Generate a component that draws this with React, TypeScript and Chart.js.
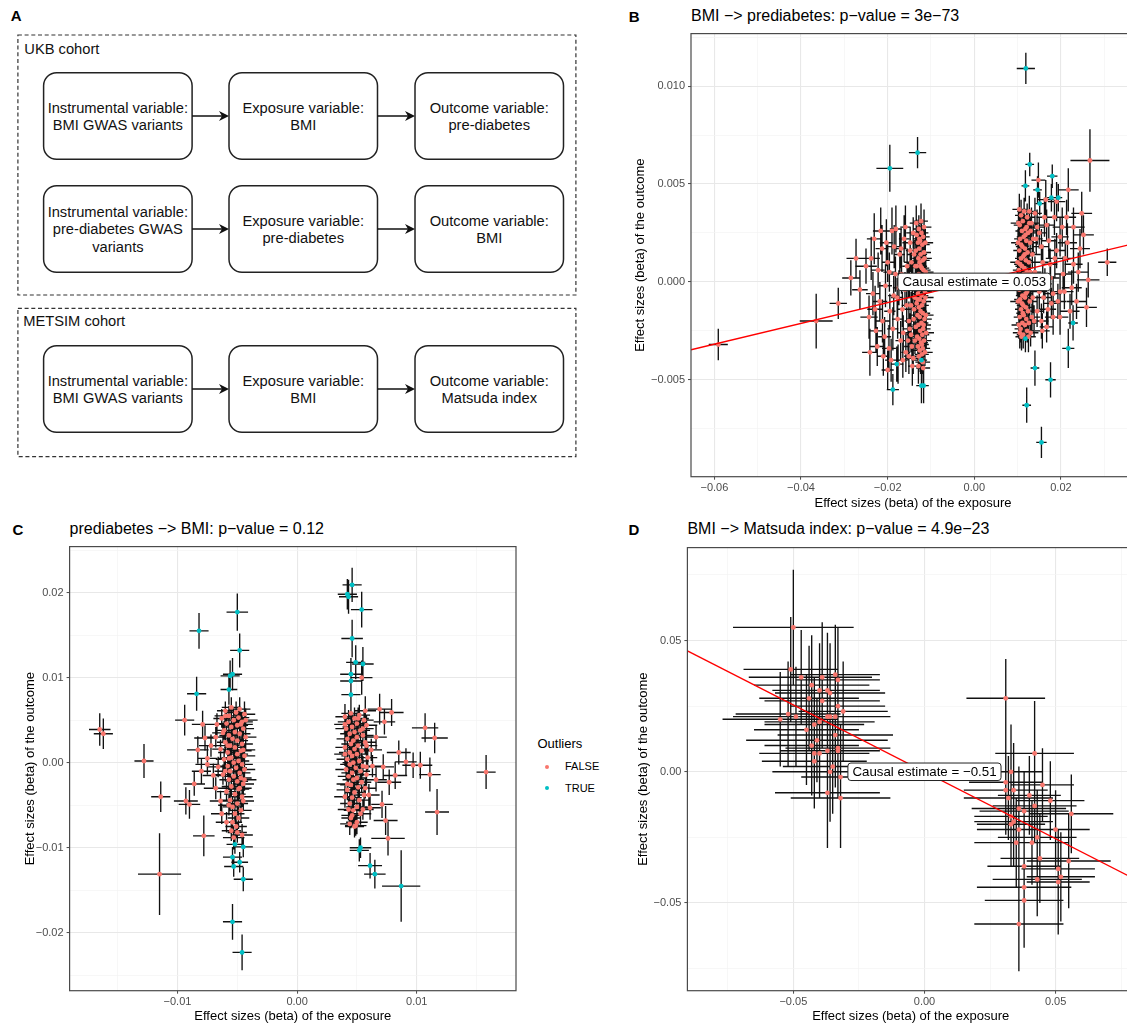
import React, { useEffect, useRef } from 'react';
import { Chart, registerables } from 'chart.js';

Chart.register(...registerables);

const FONT = "'Liberation Sans', Arial, Helvetica, sans-serif";
const PINK = '#F8766D';
const TEAL = '#00BFC4';

// ---------------- Panel B (values in units of 1e-4): [x, y, se_x, se_y]
const B_UNIT = 1e-4;
const B_FALSE: number[][] = [
  [-591, -32, 22, 8], [-365, -20, 38, 14], [-314, -11, 20, 8],
  [-273, 12, 22, 10], [-285, 2, 20, 9], [-264, -4, 18, 10], [-243, -18, 20, 11], [-241, -36, 18, 12],
  [-231, 22, 17, 13], [-227, -25, 16, 11], [-213, 17, 15, 12], [-210, -38, 14, 10], [-197, -34, 16, 12],
  [-185, 18, 14, 11], [-176, -42, 13, 10], [-222, 6, 15, 9], [-218, -10, 17, 10], [-205, -2, 15, 11],
  [-200, 10, 14, 10], [-195, -15, 13, 9], [-190, 26, 12, 12], [-188, -24, 13, 11], [-182, 4, 12, 9],
  [-178, -8, 14, 10], [-172, 14, 12, 11], [-170, -30, 12, 10], [-166, -14, 11, 9], [-162, 22, 12, 12],
  [-160, -4, 11, 9], [-158, -36, 10, 10], [-155, 8, 11, 9], [-151, -20, 10, 10], [-148, 16, 10, 11],
  [-146, -27, 10, 9], [-143, -2, 10, 10], [-151, -38, 11, 9], [-143, -43, 10, 10], [-165, -40, 11, 9],
  [-234, -6, 16, 11], [-250, 8, 25, 9], [-200, -45, 14, 10],
  [-238, 12, 20, 11], [-229, -14, 18, 12], [-224, -33, 17, 10], [-216, 26, 18, 12], [-212, -20, 16, 11],
  [-207, -28, 15, 10], [-203, 20, 15, 12], [-196, 5, 14, 10], [-192, -40, 14, 11], [-186, -7, 13, 10],
  [-181, 27, 14, 12], [-177, -19, 13, 10], [-174, -3, 14, 9], [-168, 4, 12, 10], [-164, -26, 13, 9],
  [-159, 28, 12, 11], [-156, -12, 12, 9], [-153, -30, 12, 10], [-152, 1, 11, 9], [-169, 17, 12, 10],
  [-128, 27, 14, 7], [-122, 25, 16, 6], [-133, 24, 13, 8], [-118, 23, 15, 6], [-125, 21, 14, 7],
  [-130, 20, 15, 6], [-120, 19, 17, 7], [-127, 17, 14, 6], [-135, 16, 13, 8], [-116, 15, 16, 6],
  [-124, 14, 15, 7], [-129, 12, 14, 6], [-119, 11, 16, 7], [-126, 10, 15, 6], [-133, 8, 13, 7],
  [-121, 7, 17, 6], [-117, 6, 16, 7], [-128, 4, 14, 6], [-123, 3, 15, 7], [-131, 2, 14, 6],
  [-118, 1, 17, 7], [-125, -1, 15, 6], [-136, -2, 13, 8], [-120, -3, 16, 6], [-127, -4, 14, 7],
  [-114, -5, 17, 6], [-130, -6, 15, 7], [-122, -7, 16, 6], [-126, -9, 14, 7], [-117, -10, 17, 6],
  [-133, -11, 13, 7], [-121, -12, 16, 6], [-128, -13, 15, 7], [-124, -15, 15, 6], [-119, -16, 17, 7],
  [-131, -17, 14, 6], [-126, -18, 15, 7], [-115, -19, 17, 6], [-122, -21, 16, 7], [-129, -22, 14, 6],
  [-135, -23, 13, 8], [-118, -24, 17, 6], [-125, -25, 15, 7], [-120, -27, 16, 6], [-132, -28, 14, 7],
  [-127, -29, 15, 6], [-116, -30, 17, 7], [-123, -31, 16, 6], [-130, -33, 14, 7], [-119, -34, 17, 6],
  [-126, -35, 15, 7], [-121, -37, 16, 6], [-128, -38, 14, 8], [-124, -40, 15, 7], [-119, -41, 17, 6],
  [-131, -9, 14, 6], [-124, 8, 15, 7], [-121, -32, 16, 6], [-127, 22, 14, 7], [-117, -22, 17, 7],
  [-148, 20, 18, 8], [-145, 10, 17, 7], [-150, 0, 19, 8], [-146, -12, 18, 7], [-149, -24, 17, 8],
  [-144, -33, 18, 7], [-141, 25, 16, 8], [-139, 14, 17, 7], [-142, 3, 16, 8], [-138, -8, 17, 7],
  [-140, -19, 16, 8], [-137, -30, 17, 7], [-141, -39, 16, 8], [-136, 8, 16, 7], [-139, -14, 17, 8],
  [-113, 20, 18, 7], [-112, 5, 18, 8], [-113, -8, 19, 7], [-111, -26, 18, 8], [-114, -36, 18, 7],
  [-115, 12, 17, 8], [-112, -17, 18, 7], [-116, 28, 17, 9], [-114, -2, 18, 7], [-134, 30, 15, 9],
  [-123, 31, 16, 9], [-118, -44, 16, 8], [-129, -43, 15, 9],
  [115, 36, 16, 7], [108, 34, 14, 8], [122, 33, 17, 7], [112, 31, 15, 6], [127, 30, 18, 7],
  [105, 29, 14, 8], [118, 27, 16, 7], [110, 26, 15, 6], [124, 25, 17, 7], [114, 23, 16, 6],
  [106, 22, 14, 7], [120, 21, 17, 6], [129, 20, 18, 7], [111, 18, 15, 6], [117, 17, 16, 7],
  [104, 16, 14, 6], [123, 15, 17, 7], [113, 13, 15, 6], [108, 12, 14, 7], [119, 11, 16, 6],
  [126, 10, 18, 7], [110, 8, 15, 6], [116, 7, 16, 7], [103, 6, 14, 6], [121, 5, 17, 7],
  [112, 3, 15, 6], [107, 2, 14, 7], [118, 1, 16, 6], [125, 0, 18, 7], [109, -2, 15, 6],
  [115, -3, 16, 7], [104, -4, 14, 6], [122, -5, 17, 7], [111, -7, 15, 6], [117, -8, 16, 7],
  [106, -9, 14, 6], [128, -10, 18, 7], [113, -12, 15, 6], [119, -13, 16, 7], [108, -14, 14, 6],
  [124, -15, 17, 7], [114, -17, 15, 6], [105, -18, 14, 7], [120, -19, 16, 6], [111, -21, 15, 7],
  [117, -22, 16, 6], [107, -24, 14, 7], [122, -25, 17, 6], [113, -27, 15, 7], [109, -28, 14, 7],
  [116, 14, 15, 6], [112, -16, 15, 6], [118, 24, 16, 7], [110, -11, 15, 6], [121, 28, 17, 7],
  [106, 9, 14, 6], [123, -1, 16, 6], [114, 4, 15, 7], [119, -6, 16, 6], [108, 19, 14, 7],
  [102, 30, 18, 8], [100, 10, 17, 7], [101, -10, 18, 8], [103, -22, 17, 7], [132, 30, 18, 8],
  [134, 14, 19, 7], [131, -2, 18, 8], [133, -18, 19, 7], [136, 22, 18, 8], [130, -26, 18, 7],
  [127, 36, 17, 8], [104, 37, 16, 8], [126, -21, 17, 7], [101, 20, 16, 7], [129, 5, 18, 7],
  [135, -8, 18, 8], [99, 0, 16, 7], [105, -26, 16, 8], [130, 26, 18, 7], [125, -28, 17, 8],
  [167, 29, 18, 8], [190, 16, 20, 9], [175, 9, 17, 8], [163, -1, 16, 8], [198, -5, 20, 9],
  [178, -11, 18, 8], [155, -20, 17, 9], [167, -23, 16, 8], [148, 52, 16, 9], [190, 41, 20, 10],
  [213, 33, 22, 9], [229, 9, 21, 10], [205, 4, 20, 9], [236, -10, 22, 9], [198, -18, 19, 9],
  [198, 23, 20, 10], [217, 47, 24, 11], [229, 28, 26, 10], [248, 35, 24, 11], [244, 17, 23, 10],
  [263, 1, 26, 9], [259, -13, 24, 10], [221, -15, 22, 9], [267, 62, 45, 16], [307, 10, 21, 7],
  [140, 35, 16, 8], [145, -15, 16, 8], [158, 10, 17, 9], [172, 21, 18, 9], [182, -6, 19, 9],
  [150, 25, 16, 8], [160, -8, 17, 8], [185, 33, 18, 9], [140, 5, 15, 8], [143, 22, 15, 8],
  [210, 12, 20, 9],
  [150, -5, 18, 9], [155, 18, 18, 9], [162, 33, 19, 10], [170, -14, 19, 9], [176, 2, 20, 9],
  [186, 12, 21, 10], [193, -10, 20, 9], [203, 28, 22, 10], [208, -5, 21, 9], [215, 20, 22, 10],
  [225, -3, 23, 9], [240, 5, 24, 10], [252, 24, 24, 10], [145, 28, 17, 9], [157, -25, 17, 9],
  [138, -20, 16, 8], [165, 42, 18, 10], [182, -18, 19, 9],
];
const B_TRUE: number[][] = [
  [-195, 58, 31, 12], [-131, 66, 20, 8], [-188, -55, 14, 8], [-122, -53, 12, 9], [-117, -53, 12, 9],
  [-122, -40, 11, 8], [-179, -42, 12, 9],
  [119, 109, 21, 8], [128, 60, 10, 6], [118, 49, 9, 8], [146, 47, 10, 7], [180, 54, 12, 6],
  [178, 43, 10, 7], [194, 43, 9, 7], [151, 40, 9, 6], [118, -29, 8, 7], [140, -44, 10, 9],
  [176, -50, 12, 9], [121, -63, 10, 9], [155, -82, 12, 8], [217, -34, 14, 10], [228, -21, 11, 9],
];
const B_X_RANGE = [-0.0654, 0.0371];
const B_Y_RANGE = [-0.00995, 0.01268];
const B_X_MAJOR = [-0.06, -0.04, -0.02, 0, 0.02];
const B_X_MINOR = [-0.05, -0.03, -0.01, 0.01, 0.03];
const B_X_LABELS = ['\u22120.06', '\u22120.04', '\u22120.02', '0.00', '0.02'];
const B_Y_MAJOR = [-0.005, 0, 0.005, 0.01];
const B_Y_MINOR = [-0.0075, -0.0025, 0.0025, 0.0075, 0.0125];
const B_Y_LABELS = ['\u22120.005', '0.000', '0.005', '0.010'];
const B_SLOPE = 0.053;
const B_TITLE = 'BMI \u2212> prediabetes: p\u2212value = 3e\u221273';
const B_LABEL = 'Causal estimate = 0.053';

// ---------------- Panel C (values in units of 1e-4)
const C_UNIT = 1e-4;
const C_FALSE: number[][] = [
  [-55, 65, 8, 12], [-48, 63, 9, 14], [-60, 61, 7, 11], [-51, 59, 8, 13], [-44, 57, 9, 15],
  [-57, 55, 8, 12], [-49, 53, 9, 13], [-63, 52, 7, 11], [-53, 50, 8, 14], [-46, 48, 9, 12],
  [-59, 46, 8, 13], [-50, 44, 9, 15], [-55, 42, 8, 12], [-45, 40, 9, 13], [-61, 38, 7, 11],
  [-52, 36, 8, 14], [-48, 34, 9, 12], [-57, 32, 8, 13], [-43, 30, 9, 15], [-54, 28, 8, 12],
  [-50, 26, 9, 13], [-60, 24, 7, 12], [-46, 22, 9, 14], [-56, 20, 8, 12], [-52, 18, 9, 13],
  [-64, 16, 7, 11], [-47, 14, 9, 14], [-58, 12, 8, 12], [-50, 10, 9, 13], [-44, 8, 9, 15],
  [-55, 6, 8, 12], [-61, 4, 7, 12], [-49, 2, 9, 13], [-53, 0, 8, 14], [-46, -2, 9, 12],
  [-58, -4, 8, 13], [-51, -6, 9, 15], [-44, -8, 9, 12], [-56, -10, 8, 13], [-48, -12, 9, 14],
  [-62, -14, 7, 12], [-53, -16, 8, 13], [-47, -18, 9, 15], [-57, -20, 8, 12], [-50, -22, 9, 13],
  [-45, -25, 9, 14], [-55, -28, 8, 12], [-49, -31, 9, 13], [-59, -34, 8, 12], [-52, -37, 9, 14],
  [-46, -40, 9, 12], [-56, -44, 8, 13], [-50, -48, 9, 14], [-54, -52, 8, 12], [-47, -56, 9, 13],
  [-52, -60, 8, 12], [-49, -65, 9, 13], [-54, -70, 8, 12], [-51, -75, 9, 13], [-50, -82, 8, 12],
  [-53, -88, 9, 14],
  [-60, 55, 9, 12], [-47, 45, 10, 13], [-58, 20, 9, 12], [-45, 15, 10, 14], [-60, -10, 9, 12],
  [-48, -30, 10, 13], [-57, -50, 9, 12], [-44, -20, 10, 13], [-62, 35, 9, 12], [-43, 50, 10, 14],
  [-59, -70, 9, 12], [-46, -85, 9, 13], [-55, -80, 8, 12], [-57, 5, 9, 13], [-45, -45, 9, 12],
  [-68, 30, 9, 12], [-72, 20, 10, 13], [-66, -5, 9, 12], [-70, -15, 9, 14], [-75, -2, 10, 12],
  [-67, 45, 9, 13], [-64, -45, 9, 12], [-68, -30, 10, 13], [-63, -60, 9, 12],
  [-94, 50, 8, 18], [-165, 39, 9, 19], [-162, 34, 8, 18], [-79, 45, 9, 16], [-77, 29, 9, 15],
  [-128, 2, 8, 20], [-114, -40, 8, 18], [-115, -131, 18, 48], [-78, -86, 9, 24], [-93, -45, 10, 16],
  [-90, -49, 9, 17], [-86, -25, 9, 14], [-80, -10, 8, 15], [-83, 15, 9, 16], [-75, 5, 8, 15],
  [45, 58, 8, 14], [52, 56, 9, 12], [40, 54, 8, 15], [48, 52, 9, 13], [56, 50, 8, 12],
  [43, 48, 9, 14], [50, 46, 8, 13], [58, 44, 9, 12], [46, 42, 8, 15], [41, 40, 9, 13],
  [53, 38, 8, 12], [48, 36, 9, 14], [44, 34, 8, 13], [55, 32, 9, 12], [50, 30, 8, 15],
  [42, 28, 9, 13], [47, 26, 8, 12], [57, 24, 9, 14], [45, 22, 8, 13], [51, 20, 9, 12],
  [40, 18, 8, 15], [48, 16, 9, 13], [54, 14, 8, 12], [44, 12, 9, 14], [50, 10, 8, 13],
  [46, 8, 9, 12], [59, 6, 8, 15], [42, 4, 9, 13], [52, 2, 8, 12], [47, 0, 9, 14],
  [44, -2, 8, 13], [55, -4, 9, 12], [49, -6, 8, 15], [41, -8, 9, 13], [53, -10, 8, 12],
  [46, -12, 9, 14], [58, -14, 8, 13], [43, -16, 9, 12], [50, -18, 8, 15], [47, -20, 9, 13],
  [54, -23, 8, 12], [45, -26, 9, 14], [51, -29, 8, 13], [42, -32, 9, 12], [48, -35, 8, 15],
  [56, -38, 9, 13], [46, -41, 8, 12], [52, -44, 9, 14], [44, -48, 8, 13], [50, -52, 9, 12],
  [47, -56, 8, 14], [53, -60, 9, 13], [45, -65, 8, 12], [50, -70, 9, 14], [48, -75, 8, 13],
  [40, 45, 9, 13], [55, 40, 9, 12], [42, -25, 9, 13], [57, -30, 9, 12], [40, 10, 9, 14],
  [58, 20, 9, 12], [43, -55, 9, 13], [55, -55, 9, 12], [51, 52, 9, 13], [46, -62, 9, 12],
  [40, -40, 9, 13], [58, -5, 9, 12],
  [69, 63, 10, 18], [79, 59, 10, 16], [57, 61, 9, 17], [73, 48, 9, 15], [66, 30, 9, 14],
  [62, 15, 9, 13], [72, -5, 9, 15], [66, -20, 9, 14], [77, -23, 10, 15], [71, -49, 9, 16],
  [74, -68, 10, 17], [76, -89, 14, 20], [61, -53, 9, 14], [60, -38, 9, 13], [91, 1, 9, 16],
  [97, -3, 9, 15], [103, -3, 10, 16], [111, -14, 9, 20], [107, 41, 11, 17], [115, 29, 11, 18],
  [117, -58, 10, 27], [158, -11, 8, 20], [63, -4, 9, 13], [82, -15, 10, 16], [85, 12, 10, 14],
  [44, -72, 8, 13], [49, -74, 9, 12], [54, 100, 9, 20],
];
const C_TRUE: number[][] = [
  [-82, 155, 8, 21], [-50, 177, 9, 22], [-48, 132, 8, 20], [-54, 104, 8, 19], [-56, 102, 8, 18],
  [-57, 86, 7, 18], [-84, 81, 8, 20], [-54, -187, 8, 21], [-46, -223, 8, 21], [-54, -111, 8, 12],
  [-53, -122, 8, 12], [-45, -137, 8, 14], [-52, -96, 7, 11], [-45, -99, 8, 12], [-48, -117, 7, 12],
  [46, 209, 8, 20], [42, 198, 8, 18], [43, 195, 8, 20], [54, 180, 9, 21], [46, 146, 9, 22],
  [49, 118, 8, 20], [55, 116, 9, 20], [45, 104, 9, 19], [45, 96, 9, 18], [45, 80, 8, 18],
  [53, -100, 9, 12], [52, -103, 8, 13], [61, -121, 10, 15], [65, -131, 9, 17], [87, -145, 16, 42],
];
const C_X_RANGE = [-0.01902, 0.0183];
const C_Y_RANGE = [-0.0268, 0.0254];
const C_X_MAJOR = [-0.01, 0, 0.01];
const C_X_MINOR = [-0.015, -0.005, 0.005, 0.015];
const C_X_LABELS = ['\u22120.01', '0.00', '0.01'];
const C_Y_MAJOR = [-0.02, -0.01, 0, 0.01, 0.02];
const C_Y_MINOR = [-0.025, -0.015, -0.005, 0.005, 0.015, 0.025];
const C_Y_LABELS = ['\u22120.02', '\u22120.01', '0.00', '0.01', '0.02'];
const C_TITLE = 'prediabetes \u2212> BMI: p\u2212value = 0.12';

// ---------------- Panel D (values in units of 1e-3)
const D_UNIT = 1e-3;
const D_FALSE: number[][] = [
  [-50, 55, 23, 22], [-51, 39, 18, 20], [-47, 36, 20, 18], [-43, 33, 22, 19], [-39, 36, 19, 21],
  [-34, 37, 17, 19], [-33, 35, 16, 20], [-40, 31, 18, 18], [-37, 31, 20, 22], [-36, 30, 21, 19],
  [-44, 28, 19, 20], [-39, 27, 22, 18], [-33, 25, 18, 21], [-31, 23, 17, 19], [-52, 22, 20, 20],
  [-55, 20, 22, 18], [-49, 21, 24, 19], [-40, 19, 21, 20], [-37, 21, 19, 18], [-36, 21, 23, 22],
  [-34, 21, 18, 19], [-45, 16, 20, 21], [-42, 18, 19, 18], [-34, 14, 22, 20], [-43, 10, 18, 19],
  [-33, 9, 20, 18], [-42, 7, 21, 20], [-40, 7, 19, 17], [-42, 4, 20, 18], [-37, 8, 18, 19],
  [-33, 8, 16, 18], [-35, 2, 19, 18], [-36, 0, 22, 19], [-32, -2, 15, 20], [-37, -8, 20, 21],
  [-32, -10, 19, 19], [-41, 12, 27, 16],
  [31, 28, 15, 15], [42, 7, 15, 20], [33, 0, 12, 18], [31, -4, 14, 19], [31, -7, 16, 17],
  [34, -7, 13, 18], [32, -10, 17, 16], [40, -9, 12, 15], [48, -11, 13, 15], [42, -13, 16, 14],
  [36, -14, 18, 16], [38, -15, 17, 15], [56, -16, 16, 15], [33, -17, 14, 19], [34, -19, 15, 17],
  [33, -20, 13, 16], [36, -22, 16, 18], [43, -25, 15, 18], [41, -27, 14, 16], [35, -27, 16, 17],
  [44, -33, 15, 17], [55, -34, 16, 18], [51, -37, 14, 14], [52, -40, 13, 17], [51, -42, 12, 20],
  [43, -41, 17, 14], [38, -44, 18, 13], [38, -49, 15, 18], [36, -58, 17, 18], [38, -36, 14, 16],
  [45, -5, 12, 14], [50, -22, 13, 15],
];
const D_TRUE: number[][] = [];
const D_X_RANGE = [-0.0904, 0.0799];
const D_Y_RANGE = [-0.0834, 0.0854];
const D_X_MAJOR = [-0.05, 0, 0.05];
const D_X_MINOR = [-0.075, -0.025, 0.025, 0.075];
const D_X_LABELS = ['\u22120.05', '0.00', '0.05'];
const D_Y_MAJOR = [-0.05, 0, 0.05];
const D_Y_MINOR = [-0.075, -0.025, 0.025, 0.075];
const D_Y_LABELS = ['\u22120.05', '0.00', '0.05'];
const D_SLOPE = -0.51;
const D_TITLE = 'BMI \u2212> Matsuda index: p\u2212value = 4.9e\u221223';
const D_LABEL = 'Causal estimate = \u22120.51';

const X_TITLE = 'Effect sizes (beta) of the exposure';
const Y_TITLE = 'Effect sizes (beta) of the outcome';

// ---------------- Panel A content
const A_ROWS = [
  [['Instrumental variable:', 'BMI GWAS variants'], ['Exposure variable:', 'BMI'], ['Outcome variable:', 'pre-diabetes']],
  [['Instrumental variable:', 'pre-diabetes GWAS', 'variants'], ['Exposure variable:', 'pre-diabetes'], ['Outcome variable:', 'BMI']],
  [['Instrumental variable:', 'BMI GWAS variants'], ['Exposure variable:', 'BMI'], ['Outcome variable:', 'Matsuda index']],
];
const A_GROUPS = ['UKB cohort', 'METSIM cohort'];

// ---------------- helpers
const near = (arr: number[], v: number) => arr.findIndex((m) => Math.abs(m - v) < 1e-9);

const errorBars = {
  id: 'errorBars',
  beforeDatasetsDraw(chart: any) {
    const { ctx, chartArea: a, scales } = chart;
    const xs = scales.x, ys = scales.y;
    ctx.save();
    ctx.beginPath();
    ctx.rect(a.left, a.top, a.right - a.left, a.bottom - a.top);
    ctx.clip();
    ctx.strokeStyle = '#111111';
    ctx.lineWidth = 1.35;
    ctx.beginPath();
    chart.data.datasets.forEach((ds: any) => {
      if (!ds.errorBars) return;
      ds.data.forEach((p: any) => {
        const px = xs.getPixelForValue(p.x), py = ys.getPixelForValue(p.y);
        ctx.moveTo(xs.getPixelForValue(p.x - p.sx), py);
        ctx.lineTo(xs.getPixelForValue(p.x + p.sx), py);
        ctx.moveTo(px, ys.getPixelForValue(p.y - p.sy));
        ctx.lineTo(px, ys.getPixelForValue(p.y + p.sy));
      });
    });
    ctx.stroke();
    ctx.restore();
  },
};

const decor = {
  id: 'decor',
  afterDatasetsDraw(chart: any, _args: any, opts: any) {
    if (!opts || !opts.text) return;
    const { ctx } = chart;
    const x = chart.scales.x.getPixelForValue(0);
    const y = chart.scales.y.getPixelForValue(0);
    ctx.save();
    ctx.font = `13.3px ${FONT}`;
    const tw = ctx.measureText(opts.text).width;
    const w = tw + 9, h = 17.5;
    ctx.beginPath();
    ctx.roundRect(x - w / 2, y - h / 2, w, h, 3);
    ctx.fillStyle = '#ffffff';
    ctx.fill();
    ctx.strokeStyle = '#222';
    ctx.lineWidth = 1;
    ctx.stroke();
    ctx.fillStyle = '#000';
    ctx.textAlign = 'center';
    ctx.textBaseline = 'middle';
    ctx.fillText(opts.text, x, y + 0.5);
    ctx.restore();
  },
  afterDraw(chart: any) {
    const { ctx, chartArea: a } = chart;
    ctx.save();
    ctx.strokeStyle = '#4a4a4a';
    ctx.lineWidth = 1.2;
    ctx.strokeRect(a.left, a.top, a.right - a.left, a.bottom - a.top);
    ctx.restore();
  },
};

function axis(range: number[], major: number[], minor: number[], labels: string[], title: string,
  isX: boolean, fit: number, titlePad: number) {
  const all = [...major, ...minor].filter((v) => v >= range[0] && v <= range[1]).sort((a, b) => a - b);
  const isMinor = (ctx: any) => ctx.tick && near(minor, ctx.tick.value) >= 0;
  return {
    type: 'linear',
    position: isX ? 'bottom' : 'left',
    min: range[0],
    max: range[1],
    bounds: 'data',
    afterBuildTicks: (sc: any) => { sc.ticks = all.map((v) => ({ value: v })); },
    afterFit: (sc: any) => { if (isX) sc.height = fit; else sc.width = fit; },
    ticks: {
      autoSkip: false,
      maxRotation: 0,
      minRotation: 0,
      padding: isX ? 2 : 3,
      color: '#4d4d4d',
      font: { family: FONT, size: 11 },
      callback: (v: number) => { const i = near(major, v); return i >= 0 ? labels[i] : ''; },
    },
    grid: {
      color: (ctx: any) => (isMinor(ctx) ? '#f3f3f3' : '#e8e8e8'),
      lineWidth: (ctx: any) => (isMinor(ctx) ? 0.7 : 1.1),
      tickColor: (ctx: any) => (isMinor(ctx) ? 'rgba(0,0,0,0)' : '#4a4a4a'),
      tickLength: 3,
      tickWidth: 1,
    },
    border: { display: false },
    title: {
      display: true,
      text: title,
      color: '#000',
      font: { family: FONT, size: 13, lineHeight: 1.2 },
      padding: isX ? { top: 0, bottom: titlePad } : { top: titlePad, bottom: 0 },
    },
  };
}

type Spec = {
  unit: number; falseRows: number[][]; trueRows: number[][];
  xRange: number[]; yRange: number[];
  xMajor: number[]; xMinor: number[]; xLabels: string[];
  yMajor: number[]; yMinor: number[]; yLabels: string[];
  slope: number | null; label: string;
  box: { left: number; top: number; width: number; height: number };
  padTop: number; padRight: number; yFit: number; xFit: number; yTitlePad: number; xTitlePad: number;
};

function ScatterPanel({ spec }: { spec: Spec }) {
  const ref = useRef<HTMLCanvasElement>(null);
  useEffect(() => {
    const s = spec;
    const toPts = (rows: number[][]) => rows.map((r) => ({ x: r[0] * s.unit, y: r[1] * s.unit, sx: r[2] * s.unit, sy: r[3] * s.unit }));
    const datasets: any[] = [];
    if (s.slope !== null) {
      datasets.push({
        data: [{ x: s.xRange[0], y: s.slope * s.xRange[0] }, { x: s.xRange[1], y: s.slope * s.xRange[1] }],
        showLine: true, borderColor: '#FF0000', borderWidth: 1.4, pointRadius: 0, order: 0,
      });
    }
    if (s.trueRows.length) {
      datasets.push({ data: toPts(s.trueRows), backgroundColor: TEAL, pointRadius: 2.4, borderWidth: 0, errorBars: true, order: 1 });
    }
    datasets.push({ data: toPts(s.falseRows), backgroundColor: PINK, pointRadius: 2.4, borderWidth: 0, errorBars: true, order: 2 });

    const chart = new Chart(ref.current as HTMLCanvasElement, {
      type: 'scatter',
      data: { datasets },
      options: {
        responsive: false,
        animation: false,
        events: [],
        layout: { padding: { top: s.padTop, right: s.padRight, left: 0, bottom: 0 } },
        scales: {
          x: axis(s.xRange, s.xMajor, s.xMinor, s.xLabels, X_TITLE, true, s.xFit, s.xTitlePad),
          y: axis(s.yRange, s.yMajor, s.yMinor, s.yLabels, Y_TITLE, false, s.yFit, s.yTitlePad),
        },
        plugins: {
          legend: { display: false },
          tooltip: { enabled: false },
          decor: { text: s.label },
        },
      } as any,
      plugins: [errorBars, decor],
    });
    return () => chart.destroy();
  }, [spec]);
  return (
    <canvas ref={ref} width={spec.box.width} height={spec.box.height}
      style={{ position: 'absolute', left: spec.box.left, top: spec.box.top, width: spec.box.width, height: spec.box.height }} />
  );
}

const B_SPEC: Spec = {
  unit: B_UNIT, falseRows: B_FALSE, trueRows: B_TRUE, xRange: B_X_RANGE, yRange: B_Y_RANGE,
  xMajor: B_X_MAJOR, xMinor: B_X_MINOR, xLabels: B_X_LABELS, yMajor: B_Y_MAJOR, yMinor: B_Y_MINOR, yLabels: B_Y_LABELS,
  slope: B_SLOPE, label: B_LABEL,
  box: { left: 600, top: 24, width: 545, height: 492 }, padTop: 8, padRight: 10, yFit: 91, xFit: 39.3, yTitlePad: 32.5, xTitlePad: 5.2,
};
const C_SPEC: Spec = {
  unit: C_UNIT, falseRows: C_FALSE, trueRows: C_TRUE, xRange: C_X_RANGE, yRange: C_Y_RANGE,
  xMajor: C_X_MAJOR, xMinor: C_X_MINOR, xLabels: C_X_LABELS, yMajor: C_Y_MAJOR, yMinor: C_Y_MINOR, yLabels: C_Y_LABELS,
  slope: null, label: '',
  box: { left: 0, top: 537, width: 520, height: 488 }, padTop: 8, padRight: 4, yFit: 69.6, xFit: 34.3, yTitlePad: 22.6, xTitlePad: 1.2,
};
const D_SPEC: Spec = {
  unit: D_UNIT, falseRows: D_FALSE, trueRows: D_TRUE, xRange: D_X_RANGE, yRange: D_Y_RANGE,
  xMajor: D_X_MAJOR, xMinor: D_X_MINOR, xLabels: D_X_LABELS, yMajor: D_Y_MAJOR, yMinor: D_Y_MINOR, yLabels: D_Y_LABELS,
  slope: D_SLOPE, label: D_LABEL,
  box: { left: 600, top: 538, width: 545, height: 487 }, padTop: 7.7, padRight: 11, yFit: 87.4, xFit: 34.3, yTitlePad: 35.2, xTitlePad: 1.2,
};

function Txt({ x, cy, size, bold, children }: { x: number; cy: number; size: number; bold?: boolean; children: React.ReactNode }) {
  return (
    <div style={{ position: 'absolute', left: x, top: cy - 0.49 * size, fontSize: size, lineHeight: `${size}px`,
      fontWeight: bold ? 700 : 400, whiteSpace: 'nowrap', color: '#000' }}>{children}</div>
  );
}

function PanelA() {
  const colX = [43.6, 229, 415];
  const rowY = [72.7, 185.7, 345.7];
  const bw = 148.5, bh = 86.6, fs = 14.7, lh = 17.3;
  return (
    <svg width={600} height={470} style={{ position: 'absolute', left: 0, top: 0 }} fontFamily={FONT}>
      <text x={10.7} y={20.7} fontSize={15} fontWeight={700} fill="#000">A</text>
      <rect x={17.9} y={35} width={558} height={260} fill="none" stroke="#333" strokeWidth={1.2} strokeDasharray="4 2.7" />
      <rect x={17.9} y={308.3} width={558} height={148.4} fill="none" stroke="#333" strokeWidth={1.2} strokeDasharray="4 2.7" />
      <text x={24.3} y={53.6} fontSize={fs} fill="#111">{A_GROUPS[0]}</text>
      <text x={23.2} y={326.3} fontSize={fs} fill="#111">{A_GROUPS[1]}</text>
      {A_ROWS.map((row, ri) => row.map((lines, ci) => {
        const x = colX[ci], y = rowY[ri];
        const cx = x + bw / 2, cy = y + bh / 2;
        return (
          <g key={`${ri}-${ci}`}>
            <rect x={x} y={y} width={bw} height={bh} rx={13} ry={13} fill="#fff" stroke="#222" strokeWidth={1.5} />
            {lines.map((t, li) => (
              <text key={li} x={cx} y={cy + (li - (lines.length - 1) / 2) * lh + 0.358 * fs} fontSize={fs}
                textAnchor="middle" fill="#111">{t}</text>
            ))}
            {ci < 2 && (
              <g>
                <line x1={x + bw} y1={cy} x2={colX[ci + 1] - 6} y2={cy} stroke="#111" strokeWidth={1.5} />
                <polygon points={`${colX[ci + 1]},${cy} ${colX[ci + 1] - 10},${cy - 5} ${colX[ci + 1] - 7},${cy} ${colX[ci + 1] - 10},${cy + 5}`} fill="#111" />
              </g>
            )}
          </g>
        );
      }))}
    </svg>
  );
}

export default function App() {
  return (
    <div style={{ position: 'fixed', left: 0, top: 0, width: 1127, height: 1025, overflow: 'hidden', background: '#fff', fontFamily: FONT }}>
      <PanelA />
      <Txt x={628.7} cy={16} size={15} bold>B</Txt>
      <Txt x={691} cy={16} size={16}>{B_TITLE}</Txt>
      <Txt x={12.5} cy={529.3} size={15} bold>C</Txt>
      <Txt x={69.6} cy={528.7} size={16}>{C_TITLE}</Txt>
      <Txt x={628.6} cy={529.3} size={15} bold>D</Txt>
      <Txt x={687.4} cy={529} size={16}>{D_TITLE}</Txt>
      <ScatterPanel spec={B_SPEC} />
      <ScatterPanel spec={C_SPEC} />
      <ScatterPanel spec={D_SPEC} />
      <Txt x={537.5} cy={743.3} size={13}>Outliers</Txt>
      <div style={{ position: 'absolute', left: 544.7, top: 764.7, width: 4, height: 4, borderRadius: 2, background: PINK }} />
      <div style={{ position: 'absolute', left: 544.7, top: 786.3, width: 4, height: 4, borderRadius: 2, background: TEAL }} />
      <Txt x={565} cy={766.7} size={11}>FALSE</Txt>
      <Txt x={565} cy={788.3} size={11}>TRUE</Txt>
    </div>
  );
}
